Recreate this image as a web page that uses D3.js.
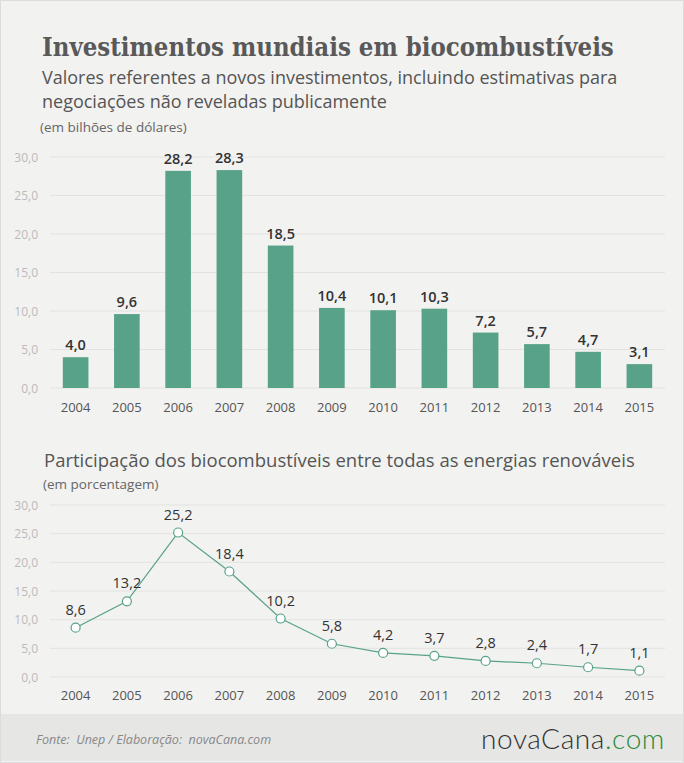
<!DOCTYPE html>
<html>
<head>
<meta charset="utf-8">
<script src="https://cdn.jsdelivr.net/npm/d3@7"></script>
<style>
  body { margin: 0; background: #fff; }
  svg { display: block; }
</style>
</head>
<body>
<div id="chart"></div>
<script>
// dados
var anos = ["2004","2005","2006","2007","2008","2009","2010","2011","2012","2013","2014","2015"];
var investimentos = [4.0, 9.6, 28.2, 28.3, 18.5, 10.4, 10.1, 10.3, 7.2, 5.7, 4.7, 3.1];
var participacao = [8.6, 13.2, 25.2, 18.4, 10.2, 5.8, 4.2, 3.7, 2.8, 2.4, 1.7, 1.1];
var yTicks = [0, 5, 10, 15, 20, 25, 30];

var W = 684, H = 763;
var verde = "#58a28a";
var fmt = function(v) { return v.toFixed(1).replace(".", ","); };
var sans = "'Open Sans', Lato, sans-serif";

var svg = d3.select("#chart").append("svg")
    .attr("width", W)
    .attr("height", H);

// fundo + moldura
svg.append("rect")
    .attr("x", 0.5).attr("y", 0.5)
    .attr("width", W - 1).attr("height", H - 1)
    .style("fill", "#f2f2f1")
    .style("stroke", "#dcdcdc");

// rodape
svg.append("rect")
    .attr("x", 1).attr("y", 714)
    .attr("width", W - 2).attr("height", 47)
    .style("fill", "#e6e6e5");

// titulos
svg.append("text")
    .attr("x", 42).attr("y", 56)
    .style("font-family", "'DejaVu Serif Condensed', 'DejaVu Serif', serif")
    .style("font-stretch", "condensed")
    .style("font-weight", "bold")
    .style("font-size", "25.5px")
    .style("fill", "#595959")
    .text("Investimentos mundiais em biocombustíveis");

var sub = ["Valores referentes a novos investimentos, incluindo estimativas para",
           "negociações não reveladas publicamente"];
svg.selectAll(".sub").data(sub).enter().append("text")
    .attr("x", 42)
    .attr("y", function(d, i) { return 84 + i * 24; })
    .style("font-family", sans)
    .style("font-size", "18px")
    .style("fill", "#555")
    .text(function(d) { return d; });

svg.append("text")
    .attr("x", 40).attr("y", 132)
    .style("font-family", sans)
    .style("font-size", "13.5px")
    .style("fill", "#666")
    .text("(em bilhões de dólares)");

// ---------- grafico de barras ----------
var x = d3.scaleBand()
    .domain(anos)
    .range([50, 665])
    .paddingInner(0.5)
    .paddingOuter(0.25);

var y1 = d3.scaleLinear().domain([0, 30]).range([388, 157]);

var g1 = svg.append("g");

g1.selectAll(".grid1").data(yTicks).enter().append("line")
    .attr("x1", 50).attr("x2", 665)
    .attr("y1", function(d) { return y1(d); })
    .attr("y2", function(d) { return y1(d); })
    .style("stroke", "#e2e2e0")
    .style("stroke-width", 1);

g1.selectAll(".tick1").data(yTicks).enter().append("text")
    .attr("x", 38)
    .attr("y", function(d) { return y1(d) + 4.5; })
    .style("text-anchor", "end")
    .style("font-family", sans)
    .style("font-size", "12px")
    .style("fill", "#bbb")
    .text(fmt);

g1.selectAll(".bar").data(investimentos).enter().append("rect")
    .attr("x", function(d, i) { return x(anos[i]); })
    .attr("y", function(d) { return y1(d); })
    .attr("width", x.bandwidth())
    .attr("height", function(d) { return y1(0) - y1(d); })
    .style("fill", verde);

g1.selectAll(".val1").data(investimentos).enter().append("text")
    .attr("x", function(d, i) { return x(anos[i]) + x.bandwidth() / 2; })
    .attr("y", function(d) { return y1(d) - 7; })
    .style("text-anchor", "middle")
    .style("font-family", sans)
    .style("font-weight", 600)
    .style("font-size", "14.5px")
    .style("fill", "#333")
    .text(fmt);

g1.selectAll(".ano1").data(anos).enter().append("text")
    .attr("x", function(d) { return x(d) + x.bandwidth() / 2; })
    .attr("y", 412)
    .style("text-anchor", "middle")
    .style("font-family", sans)
    .style("font-size", "13px")
    .style("fill", "#555")
    .text(function(d) { return d; });

// ---------- grafico de linha ----------
svg.append("text")
    .attr("x", 44).attr("y", 467)
    .style("font-family", sans)
    .style("font-size", "18.5px")
    .style("fill", "#555")
    .text("Participação dos biocombustíveis entre todas as energias renováveis");

svg.append("text")
    .attr("x", 43).attr("y", 489)
    .style("font-family", sans)
    .style("font-size", "13.5px")
    .style("fill", "#666")
    .text("(em porcentagem)");

var y2 = d3.scaleLinear().domain([0, 30]).range([677, 505]);
var g2 = svg.append("g");

g2.selectAll(".grid2").data(yTicks).enter().append("line")
    .attr("x1", 50).attr("x2", 665)
    .attr("y1", function(d) { return y2(d); })
    .attr("y2", function(d) { return y2(d); })
    .style("stroke", "#e2e2e0")
    .style("stroke-width", 1);

g2.selectAll(".tick2").data(yTicks).enter().append("text")
    .attr("x", 38)
    .attr("y", function(d) { return y2(d) + 4.5; })
    .style("text-anchor", "end")
    .style("font-family", sans)
    .style("font-size", "12px")
    .style("fill", "#bbb")
    .text(fmt);

var cx = function(d, i) { return x(anos[i]) + x.bandwidth() / 2; };

var linha = d3.line()
    .x(function(d, i) { return cx(d, i); })
    .y(function(d) { return y2(d); });

g2.append("path")
    .datum(participacao)
    .attr("d", linha)
    .style("fill", "none")
    .style("stroke", verde)
    .style("stroke-width", 1.2);

g2.selectAll(".pt").data(participacao).enter().append("circle")
    .attr("cx", cx)
    .attr("cy", function(d) { return y2(d); })
    .attr("r", 4.5)
    .style("fill", "#fff")
    .style("stroke", verde)
    .style("stroke-width", 1.2);

g2.selectAll(".val2").data(participacao).enter().append("text")
    .attr("x", cx)
    .attr("y", function(d) { return y2(d) - 13; })
    .style("text-anchor", "middle")
    .style("font-family", sans)
    .style("font-size", "14.5px")
    .style("fill", "#333")
    .text(fmt);

g2.selectAll(".ano2").data(anos).enter().append("text")
    .attr("x", function(d) { return x(d) + x.bandwidth() / 2; })
    .attr("y", 700)
    .style("text-anchor", "middle")
    .style("font-family", sans)
    .style("font-size", "13px")
    .style("fill", "#555")
    .text(function(d) { return d; });

// fonte + logo
svg.append("text")
    .attr("x", 36).attr("y", 744)
    .attr("xml:space", "preserve")
    .style("white-space", "pre")
    .style("font-family", sans)
    .style("font-style", "italic")
    .style("font-size", "12.5px")
    .style("fill", "#888")
    .text("Fonte:  Unep / Elaboração:  novaCana.com");

var logo = svg.append("text")
    .attr("x", 665).attr("y", 749)
    .style("text-anchor", "end")
    .style("font-family", "Lato, sans-serif")
    .style("font-weight", 300)
    .style("font-size", "28px")
    .style("letter-spacing", "0.6px")
    .style("fill", "#333");
logo.append("tspan").text("novaCana");
logo.append("tspan").style("fill", "#2e8b3e").text(".com");
</script>
</body>
</html>
